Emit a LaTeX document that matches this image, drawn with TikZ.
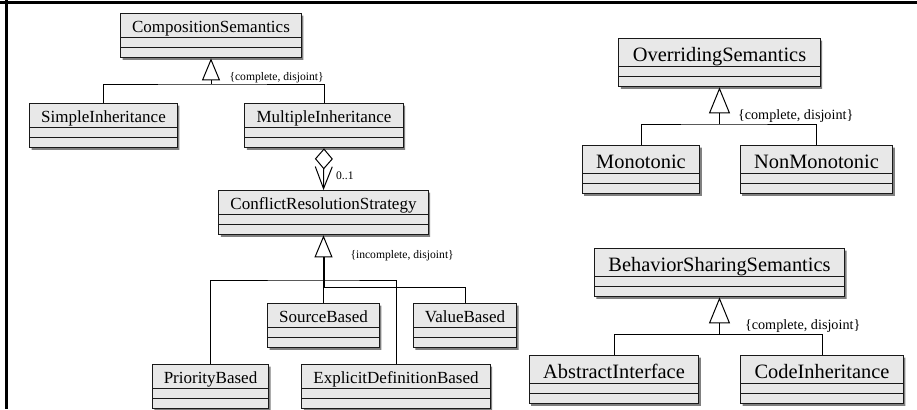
\documentclass[tikz,border=0pt]{standalone}
\usepackage{fontspec}
\setmainfont{Liberation Serif}
\usepackage{tikz}
\usetikzlibrary{shapes.multipart}
\usetikzlibrary{arrows.meta}
\usetikzlibrary{shadows}
\definecolor{boxgray}{gray}{0.91}
\tikzset{
every picture/.style={line width=0.5pt},
classnode/.style={rectangle split, rectangle split parts=3, draw=black!90, fill=boxgray, anchor=north, inner ysep=0pt, rectangle split empty part depth=0pt, drop shadow={shadow xshift=1pt, shadow yshift=-1pt, fill=black!50, opacity=1}},
smallclass/.style={classnode, font=\fontsize{8.5}{10}\selectfont, inner xsep=5.75pt, text height=9pt, text depth=2.5pt, rectangle split empty part height=3.5pt},
bigclass/.style={classnode, font=\fontsize{10.2}{12}\selectfont, inner xsep=7pt, text height=11pt, text depth=2.5pt, rectangle split empty part height=4.5pt},
constraint/.style={font=\fontsize{5.8}{7}\selectfont, inner sep=0pt},
bigconstraint/.style={font=\fontsize{7.1}{8.5}\selectfont, inner sep=0pt},
gen/.style={-{Triangle[open, length=11pt, width=9pt]}},
biggen/.style={-{Triangle[open, length=13pt, width=10.5pt]}},
aggr/.style={{Diamond[open, length=10.5pt, width=9pt]}-{Straight Barb[length=11pt, width=8.5pt]}},
frame/.style={line width=1.5pt}
}

\begin{document}
\begin{tikzpicture}[x=0.5pt, y=-0.5pt]
\useasboundingbox (0,0) rectangle (917,409);
\draw[frame] (0,2.5) -- (917,2.5);
\draw[frame] (6,0) -- (6,409);

%Nodes
\node [smallclass] (CS) at (211,13) {CompositionSemantics};
\node [smallclass] (SI) at (103.5,103) {SimpleInheritance};
\node [smallclass] (MI) at (324,103) {MultipleInheritance};
\node [smallclass] (CRS) at (323.5,190) {ConflictResolutionStrategy};
\node [smallclass] (SB) at (323.5,303) {SourceBased};
\node [smallclass] (VB) at (465,303) {ValueBased};
\node [smallclass] (PB) at (210.5,364) {PriorityBased};
\node [smallclass] (EDB) at (396,364) {ExplicitDefinitionBased};
\node [bigclass] (OS) at (719.5,38) {OverridingSemantics};
\node [bigclass] (Mono) at (641,145) {Monotonic};
\node [bigclass] (NonMono) at (816.5,145) {NonMonotonic};
\node [bigclass] (BSS) at (719.5,248) {BehaviorSharingSemantics};
\node [bigclass] (AI) at (614,355) {AbstractInterface};
\node [bigclass] (CI) at (822,355) {CodeInheritance};
\coordinate (CSbar) at (211,84);
\coordinate (CRSbar) at (323.5,280);
\coordinate (CRSjoin) at (323.5,287);
\coordinate (OSbar) at (719.5,124);
\coordinate (BSSbar) at (719.5,334);

%Lines
\draw[gen] (CSbar) -- (CS.south);
\draw (SI.north) |- (CSbar) node[constraint, anchor=south west, xshift=9pt, yshift=0.5pt] {\{complete, disjoint\}} -| (MI.north);
\draw[aggr] (MI.south) -- (CRS.north) node[constraint, pos=0.667, anchor=west, xshift=6pt] {0..1};
\draw[line width=1pt, shorten >=11pt] (CRSjoin) -- (CRS.south);
\draw[gen] (CRSjoin) -- (CRS.south);
\node [constraint, anchor=north west] (CRSlabel) at ([xshift=13.25pt, yshift=-7.5pt]CRS.south) {\{incomplete, disjoint\}};
\draw (SB.north) -- (CRSjoin);
\draw (PB.north) |- (CRSbar) -| (EDB.north);
\draw (VB.north) |- (CRSjoin);
\draw[biggen] (OSbar) -- (OS.south);
\draw (Mono.north) |- (OSbar) node[bigconstraint, anchor=south west, xshift=9pt, yshift=0.5pt] {\{complete, disjoint\}} -| (NonMono.north);
\draw[biggen] (BSSbar) -- (BSS.south);
\draw (AI.north) |- (BSSbar) node[bigconstraint, anchor=south west, xshift=12.5pt, yshift=0.5pt] {\{complete, disjoint\}} -| (CI.north);

\end{tikzpicture}
\end{document}
